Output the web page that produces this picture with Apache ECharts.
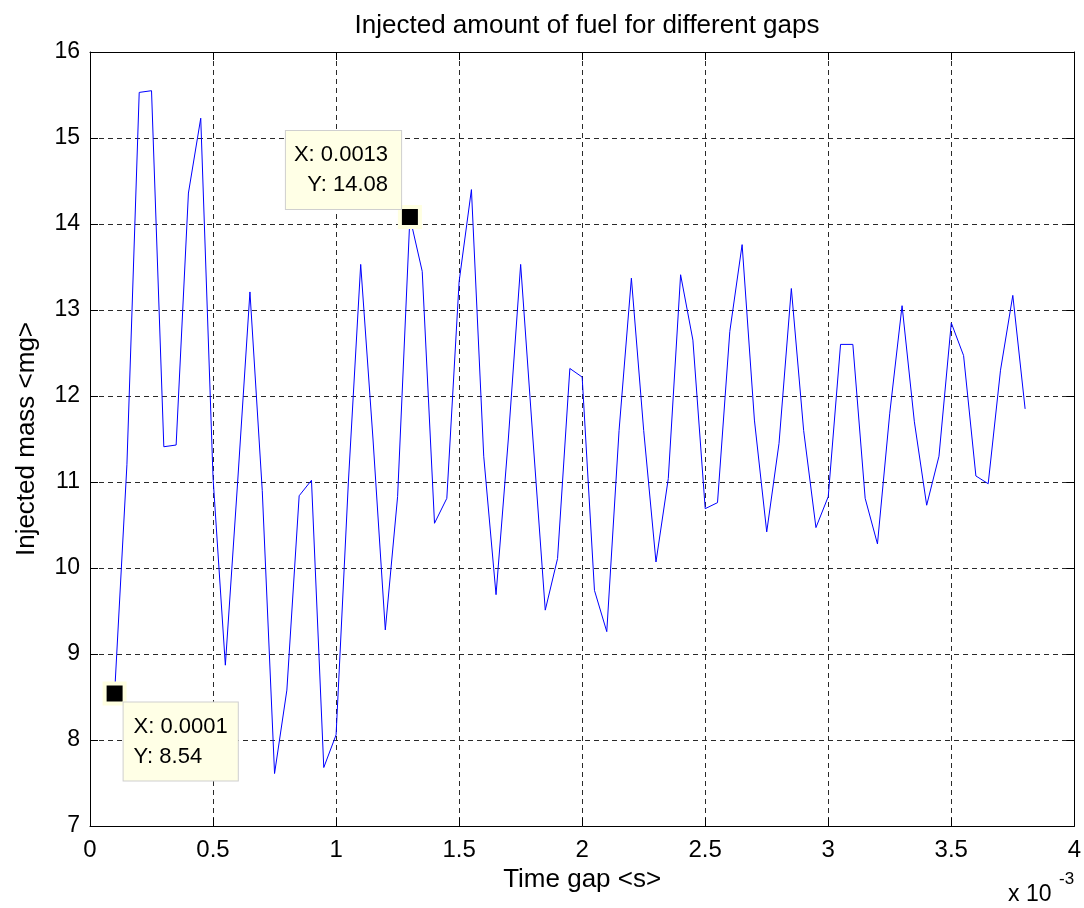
<!DOCTYPE html>
<html>
<head>
<meta charset="utf-8">
<title>Injected amount of fuel for different gaps</title>
<script src="https://cdn.jsdelivr.net/npm/echarts@6/dist/echarts.min.js"></script>
<style>
  html, body { margin: 0; padding: 0; background: #fff; }
  #chart { width: 1084px; height: 908px; }
</style>
</head>
<body>
<div id="chart"></div>
<script>
// Time gap between injections, in milliseconds (axis shows x 10^-3 s)
const timeGapMs = [
  0.10, 0.15, 0.20, 0.25, 0.30, 0.35, 0.40, 0.45, 0.50, 0.55,
  0.60, 0.65, 0.70, 0.75, 0.80, 0.85, 0.90, 0.95, 1.00, 1.05,
  1.10, 1.15, 1.20, 1.25, 1.30, 1.35, 1.40, 1.45, 1.50, 1.55,
  1.60, 1.65, 1.70, 1.75, 1.80, 1.85, 1.90, 1.95, 2.00, 2.05,
  2.10, 2.15, 2.20, 2.25, 2.30, 2.35, 2.40, 2.45, 2.50, 2.55,
  2.60, 2.65, 2.70, 2.75, 2.80, 2.85, 2.90, 2.95, 3.00, 3.05,
  3.10, 3.15, 3.20, 3.25, 3.30, 3.35, 3.40, 3.45, 3.50, 3.55,
  3.60, 3.65, 3.70, 3.75, 3.80
];

// Injected fuel mass per time gap, mg
const injectedMass = [
  8.54, 11.2, 15.53, 15.55, 11.41, 11.43, 14.36, 15.23, 11.05, 8.87,
  11.0, 13.21, 10.9, 7.61, 8.58, 10.84, 11.02, 7.68, 8.06, 11.0,
  13.53, 11.5, 9.28, 10.83, 14.08, 13.45, 10.52, 10.81, 13.33, 14.40,
  11.3, 9.69, 11.5, 13.53, 11.5, 9.51, 10.11, 12.32, 12.22, 9.74,
  9.26, 11.6, 13.37, 11.6, 10.07, 11.04, 13.41, 12.65, 10.69, 10.76,
  12.75, 13.76, 11.72, 10.42, 11.45, 13.25, 11.6, 10.47, 10.83, 12.60,
  12.60, 10.81, 10.28, 11.8, 13.05, 11.7, 10.73, 11.30, 12.85, 12.47,
  11.07, 10.98, 12.30, 13.17, 11.85
];

// Indices of the points carrying a data tip
const tipIndices = [0, 24];

const xTicks = { min: 0, max: 4, step: 0.5 };
const yTicks = { min: 7, max: 16, step: 1 };

const FONT = 'Liberation Sans, Arial, sans-serif';

const chart = echarts.init(document.getElementById('chart'), null, { renderer: 'canvas' });

const lineData = timeGapMs.map((t, i) => [t, injectedMass[i]]);

// Data tip boxes: first one below-right of its point, second one above-left
const tipLayouts = [
  { position: [21, 21], padding: [9, 10, 9, 10], lineAlign: 'left' },
  { position: [-112, -74], padding: [9, 13, 9, 8], lineAlign: 'right' }
];

const tipData = tipIndices.map((i, k) => ({
  value: [timeGapMs[i], injectedMass[i]],
  label: {
    position: tipLayouts[k].position,
    padding: tipLayouts[k].padding,
    rich: {
      t: { fontFamily: FONT, fontSize: 22, color: '#000', lineHeight: 30, align: tipLayouts[k].lineAlign }
    }
  }
}));

const gridLine = { show: true, lineStyle: { color: '#2a2a2a', width: 1, type: [5, 4] } };

const baseX = {
  type: 'value', min: xTicks.min, max: xTicks.max, interval: xTicks.step,
  axisLine: { show: true, onZero: false, lineStyle: { color: '#000', width: 1 } },
  axisTick: { show: true, inside: true, length: 8, lineStyle: { color: '#000' } }
};
const baseY = {
  type: 'value', min: yTicks.min, max: yTicks.max, interval: yTicks.step,
  axisLine: { show: true, onZero: false, lineStyle: { color: '#000', width: 1 } },
  axisTick: { show: true, inside: true, length: 8, lineStyle: { color: '#000' } }
};

chart.setOption({
  animation: false,
  backgroundColor: '#fff',
  title: {
    text: 'Injected amount of fuel for different gaps',
    left: 582, top: 8, textAlign: 'center',
    textStyle: { fontFamily: FONT, fontSize: 26, fontWeight: 'normal', color: '#000' }
  },
  grid: { left: 90, right: 9, top: 52, bottom: 82, show: false },
  xAxis: [
    Object.assign({}, baseX, {
      position: 'bottom',
      name: 'Time gap <s>', nameLocation: 'middle', nameGap: 29,
      nameTextStyle: { fontFamily: FONT, fontSize: 26, color: '#000' },
      axisLabel: { show: true, margin: 12, fontFamily: FONT, fontSize: 24, color: '#000' },
      splitLine: gridLine
    }),
    Object.assign({}, baseX, {
      position: 'top', axisLabel: { show: false }, splitLine: { show: false }
    })
  ],
  yAxis: [
    Object.assign({}, baseY, {
      position: 'left',
      name: 'Injected mass <mg>', nameLocation: 'middle', nameGap: 50,
      nameTextStyle: { fontFamily: FONT, fontSize: 26, color: '#000' },
      axisLabel: { show: true, margin: 10, fontFamily: FONT, fontSize: 23, color: '#000' },
      splitLine: gridLine
    }),
    Object.assign({}, baseY, {
      position: 'right', axisLabel: { show: false }, splitLine: { show: false }
    })
  ],
  graphic: [
    {
      type: 'text', left: 1008, top: 883,
      style: { text: 'x 10', fontFamily: FONT, fontSize: 23, fill: '#000' }
    },
    {
      type: 'text', left: 1059, top: 871,
      style: { text: '-3', fontFamily: FONT, fontSize: 17, fill: '#000' }
    }
  ],
  series: [
    {
      type: 'line',
      data: lineData,
      showSymbol: false,
      lineStyle: { color: '#0000ff', width: 1 },
      itemStyle: { color: '#0000ff' },
      z: 2
    },
    {
      type: 'scatter',
      data: tipData,
      symbol: 'rect',
      symbolSize: 20,
      itemStyle: { color: '#000', borderColor: '#ffffe1', borderWidth: 4, opacity: 1 },
      label: {
        show: true,
        formatter: p => '{t|X: ' + (p.value[0] / 1000).toFixed(4) + '}\n{t|Y: ' + p.value[1].toFixed(2) + '}',
        fontFamily: FONT, fontSize: 22, color: '#000',
        lineHeight: 30,
        backgroundColor: '#ffffe6',
        borderColor: '#cfcfcf', borderWidth: 1,
        align: 'left', verticalAlign: 'top'
      },
      z: 5
    }
  ]
});
</script>
</body>
</html>
